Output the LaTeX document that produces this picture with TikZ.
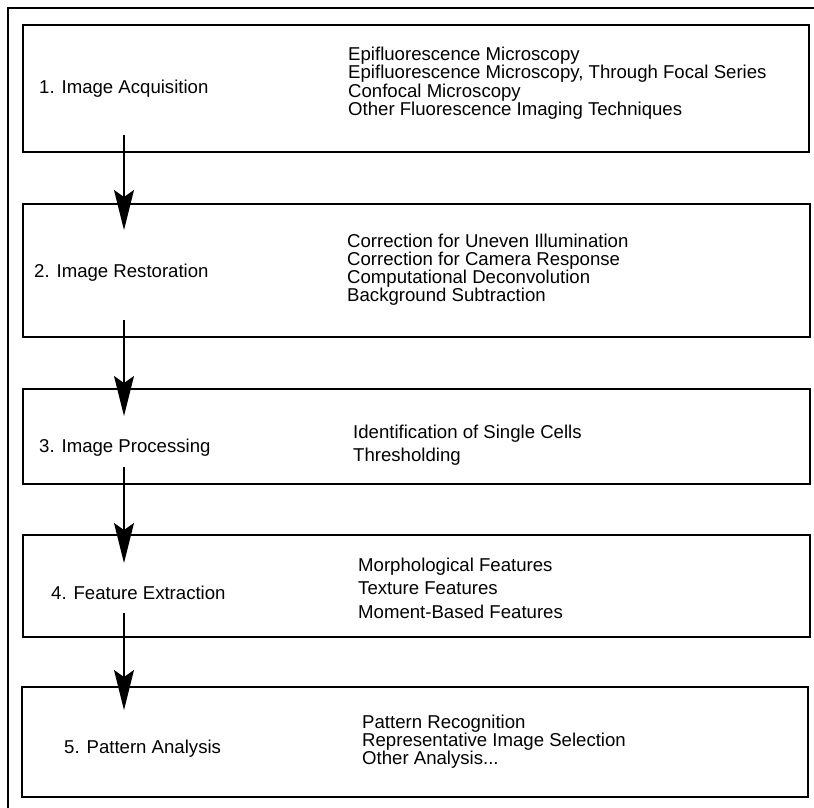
\documentclass[tikz,border=0pt]{standalone}
\usepackage{fontspec}
\setmainfont{Liberation Sans}
\usetikzlibrary{arrows.meta}
\begin{document}
\begin{tikzpicture}[x=1pt,y=-1pt,
  stagebox/.style={draw=black,line width=1.6pt,rectangle,inner sep=0pt,outer sep=0pt,anchor=north west},
  stagelabel/.style={inner sep=0pt,anchor=base west,font=\fontsize{18.6}{18.3}\selectfont},
  itemlist/.style={inner sep=0pt,anchor=north west,align=left,font=\fontsize{18.6}{18.3}\selectfont},
  itemlistwide/.style={itemlist,font=\fontsize{18.6}{23.2}\selectfont},
  flowarrow/.style={draw=black,line width=1.4pt,-{Stealth[length=40pt,width=20pt,inset=7pt]}},
  frameline/.style={draw=black,line width=2pt}]
\useasboundingbox (0,0) rectangle (814,808);
% outer frame (left and top edges)
\coordinate (fbl) at (8,808);
\coordinate (ftl) at (8,8);
\coordinate (ftr) at (814,8);
\draw[frameline] (fbl) -- (ftl) -- (ftr);
% boxes
\node[stagebox,minimum width=786pt,minimum height=127pt] (b1) at (23,25) {};
\node[stagebox,minimum width=787pt,minimum height=133pt] (b2) at (23,204) {};
\node[stagebox,minimum width=787pt,minimum height=95pt] (b3) at (23,389) {};
\node[stagebox,minimum width=787pt,minimum height=102pt] (b4) at (23,535) {};
\node[stagebox,minimum width=786pt,minimum height=110pt] (b5) at (22,687) {};
% stage labels
\node[stagelabel] (l1) at (39,93.3) {1. Image Acquisition};
\node[stagelabel] (l2) at (34,277.5) {2. Image Restoration};
\node[stagelabel] (l3) at (39,452.5) {3. Image Processing};
\node[stagelabel] (l4) at (51,599) {4. Feature Extraction};
\node[stagelabel] (l5) at (64,753.3) {5. Pattern Analysis};
% item lists
\node[itemlist] (r1) at (348,47) {Epifluorescence Microscopy\\Epifluorescence Microscopy, Through Focal Series\\Confocal Microscopy\\Other Fluorescence Imaging Techniques};
\node[itemlist,font=\fontsize{18.6}{18}\selectfont] (r2) at (347,234) {Correction for Uneven Illumination\\Correction for Camera Response\\Computational Deconvolution\\Background Subtraction};
\node[itemlistwide] (r3) at (353,425) {Identification of Single Cells\\Thresholding};
\node[itemlistwide] (r4) at (358,558) {Morphological Features\\Texture Features\\Moment-Based Features};
\node[itemlist,font=\fontsize{18.6}{18}\selectfont] (r5) at (362,715) {Pattern Recognition\\Representative Image Selection\\Other Analysis...};
% arrows
\coordinate (a1s) at (124,135); \coordinate (a1e) at (124,230);
\coordinate (a2s) at (124,320); \coordinate (a2e) at (124,416);
\coordinate (a3s) at (124,467); \coordinate (a3e) at (124,563);
\coordinate (a4s) at (124,613); \coordinate (a4e) at (124,710);
\draw[flowarrow] (a1s) -- (a1e);
\draw[flowarrow] (a2s) -- (a2e);
\draw[flowarrow] (a3s) -- (a3e);
\draw[flowarrow] (a4s) -- (a4e);
\end{tikzpicture}
\end{document}
